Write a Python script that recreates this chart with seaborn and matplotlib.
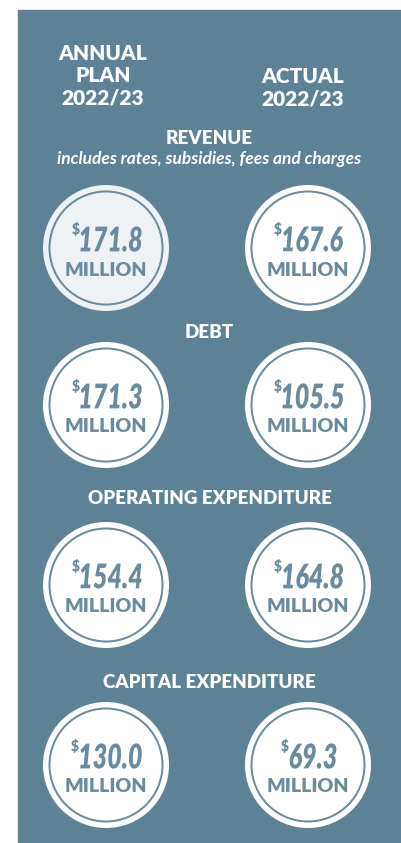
import matplotlib
matplotlib.use("Agg")
import matplotlib.pyplot as plt
import seaborn as sns
import pandas as pd
from matplotlib.patches import Rectangle, PathPatch
from matplotlib.textpath import TextPath
from matplotlib.font_manager import FontProperties
from matplotlib.transforms import Affine2D

# Data
categories = ["REVENUE", "DEBT", "OPERATING EXPENDITURE", "CAPITAL EXPENDITURE"]
subtitles = ["includes rates, subsidies, fees and charges", "", "", ""]
plan_values = [171.8, 171.3, 154.4, 130.0]
actual_values = [167.6, 105.5, 164.8, 69.3]
column_labels = ["ANNUAL\nPLAN\n2022/23", "ACTUAL\n2022/23"]
unit_label = "MILLION"

# Layout (pixels, figure is 401x843 at dpi 100)
W, H = 401, 843
col_x = [106, 308]
row_y = [248, 405, 585, 765]
title_y = [138, 332, 499, 683]
R = 63

panel = "#5e8295"
ink = "#6a8b9d"
light_fill = "#eef2f5"

sns.set_theme(style="white")
plt.rcParams["font.family"] = ["Lato", "DejaVu Sans"]

fig = plt.figure(figsize=(W / 100, H / 100), dpi=100)
ax = fig.add_axes([0, 0, 1, 1])

ax.add_patch(Rectangle((18, 10), W - 18, H - 10, color=panel, zorder=0))

rows = []
for i, cat in enumerate(categories):
    rows.append({"x": col_x[0], "y": row_y[i], "value": plan_values[i], "fill": light_fill if i == 0 else "white"})
    rows.append({"x": col_x[1], "y": row_y[i], "value": actual_values[i], "fill": "white"})
df = pd.DataFrame(rows)

px2pt = 72 / 100
# outer disks
for fill, sub in df.groupby("fill"):
    sns.scatterplot(data=sub, x="x", y="y", ax=ax, s=(2 * R * px2pt) ** 2,
                    color=fill, edgecolor="none", linewidth=0, zorder=2, legend=False)
# inner thin ring
sns.scatterplot(data=df, x="x", y="y", ax=ax, s=(2 * 56.5 * px2pt) ** 2,
                facecolor="none", edgecolor=ink, linewidth=2 * px2pt, zorder=3, legend=False)
ax.set_xlim(0, W)
ax.set_ylim(H, 0)
ax.axis("off")

# column headers
ax.text(103, 76, column_labels[0], ha="center", va="center", color="white",
        fontsize=15, fontweight="heavy", linespacing=1.2)
ax.text(303, 88, column_labels[1], ha="center", va="center", color="white",
        fontsize=15, fontweight="heavy", linespacing=1.2)

for i, cat in enumerate(categories):
    ax.text(209.5, title_y[i], cat, ha="center", va="center", color="white",
            fontsize=13.5, fontweight="heavy")
    if subtitles[i]:
        ax.text(209.5, title_y[i] + 21, subtitles[i], ha="center", va="center",
                color="white", fontsize=12.5, fontstyle="italic", fontweight="bold")

# condensed handwritten-ish numbers via scaled text paths
fp = FontProperties(family=["Lato", "DejaVu Sans"], weight="heavy", style="italic")
for _, r in df.iterrows():
    tp = TextPath((0, 0), f"{r['value']:.1f}", size=34, prop=fp)
    ext = tp.get_extents()
    sx = 0.74
    w = ext.width * sx
    h = ext.height
    cx, cy = r["x"] + 5, r["y"] - 9
    tr = Affine2D().translate(-ext.x0, -ext.y0).scale(sx, -1).translate(cx - w / 2, cy + h / 2)
    ax.add_patch(PathPatch(tr.transform_path(tp), color=ink, lw=0, zorder=4))
    ax.text(cx - w / 2 - 1, cy - h / 2 + 3, "\\$", ha="right", va="center", color=ink,
            fontsize=10, fontweight="heavy", zorder=4)
    ax.text(r["x"], r["y"] + 22, unit_label, ha="center", va="center", color=ink,
            fontsize=14, fontweight="heavy", zorder=4)

fig.savefig("out.png", dpi=100, facecolor="white")
